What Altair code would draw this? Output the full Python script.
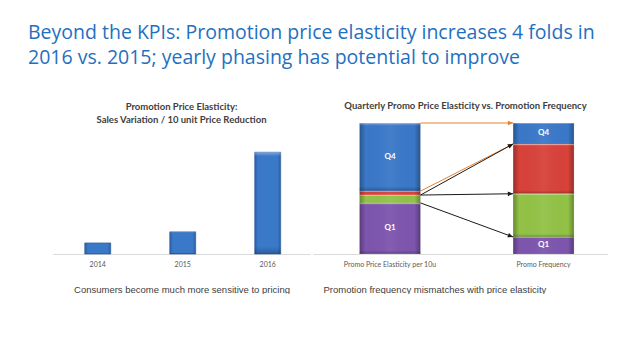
import math
import altair as alt
import pandas as pd

# ---------------- data ----------------
years = ["2014", "2015", "2016"]
elasticity = [1.1, 2.2, 10.1]

stack_cats = ["Promo Price Elasticity per 10u", "Promo Frequency"]
quarters = ["Q1", "Q2", "Q3", "Q4"]
elasticity_share = [39, 6, 3, 52]
frequency_share = [13, 33, 38, 16]

arrow_from = ["Q4", "Q3", "Q2", "Q2", "Q1"]
arrow_to = ["Q4", "Q3", "Q3", "Q2", "Q1"]
arrow_group = ["A", "A", "B", "B", "B"]

title_lines = [
    "Beyond the KPIs: Promotion price elasticity increases 4 folds in",
    "2016 vs. 2015; yearly phasing has potential to improve",
]
left_title = ["Promotion Price Elasticity:", "Sales Variation / 10 unit Price Reduction"]
right_title = "Quarterly Promo Price Elasticity vs. Promotion Frequency"
left_caption = "Consumers become much more sensitive to pricing"
right_caption = "Promotion frequency mismatches with price elasticity"

# ---------------- layout / style ----------------
LW, RW, H = 257, 295, 131
R_PI, R_PO, R_AL = 0.603, 0.262, 0.578
q_colors = ["#7d55ae", "#92c246", "#d8423a", "#3a78c8"]
group_colors = {"A": "#e8822f", "B": "#1a1a1a"}
TXT = "#404040"

shade_h = {
    "gradient": "linear", "x1": 0, "x2": 1, "y1": 0, "y2": 0,
    "stops": [
        {"offset": 0, "color": "rgba(0,0,0,0.30)"},
        {"offset": 0.1, "color": "rgba(0,0,0,0)"},
        {"offset": 0.5, "color": "rgba(255,255,255,0.05)"},
        {"offset": 0.9, "color": "rgba(0,0,0,0)"},
        {"offset": 1, "color": "rgba(0,0,0,0.30)"},
    ],
}
shade_v = {
    "gradient": "linear", "x1": 0, "x2": 0, "y1": 0, "y2": 1,
    "stops": [
        {"offset": 0, "color": "rgba(255,255,255,0.35)"},
        {"offset": 0.04, "color": "rgba(255,255,255,0)"},
        {"offset": 0.93, "color": "rgba(0,0,0,0)"},
        {"offset": 1, "color": "rgba(0,0,0,0.25)"},
    ],
}
blue_grad = {
    "gradient": "linear", "x1": 0, "x2": 1, "y1": 0, "y2": 0,
    "stops": [
        {"offset": 0, "color": "#2a5da3"},
        {"offset": 0.12, "color": "#3a78c8"},
        {"offset": 0.88, "color": "#3a78c8"},
        {"offset": 1, "color": "#2a5da3"},
    ],
}

# ---------------- left chart ----------------
left_df = pd.DataFrame({"year": years, "elasticity": elasticity})
left_axis = alt.Axis(
    title=left_caption, labelAngle=0, ticks=False, domainColor="#d9d9d9",
    labelFont="Lato", labelFontSize=7, labelColor="#595959", labelPadding=6,
    titleFont="Liberation Sans", titleFontSize=9.5, titleFontWeight="normal",
    titleColor=TXT, titleBaseline="middle", titleY=35.5,
)
lx = alt.X("year:N", scale=alt.Scale(paddingInner=0.694, paddingOuter=0.359, align=0.52), axis=left_axis)
ly = alt.Y("elasticity:Q", scale=alt.Scale(domain=[0, 13], nice=False), axis=None)
left_bars = alt.Chart(left_df).mark_bar(color=blue_grad, stroke="#2b5c9c", strokeWidth=0.6).encode(x=lx, y=ly)
left_shade = alt.Chart(left_df).mark_bar(color=shade_v).encode(x=lx, y=ly)
left = alt.layer(left_bars, left_shade).properties(
    width=LW, height=H,
    title=alt.TitleParams(
        left_title, font="Lato", fontSize=9.5, fontWeight="bold", color=TXT,
        anchor="middle", baseline="bottom", lineHeight=13.5, offset=-11.5,
    ),
)

# ---------------- right chart ----------------
rows = []
for cat, series in zip(stack_cats, [elasticity_share, frequency_share]):
    for q, v in zip(quarters, series):
        rows.append({"cat": cat, "q": q, "share": v})
right_df = pd.DataFrame(rows)

def top_of(series, q):
    i = quarters.index(q)
    return sum(series[: i + 1])

# arrow geometry (pixel slope for the arrow heads)
step = RW / (len(stack_cats) - R_PI + 2 * R_PO)
gap_px = step * R_PI
arrows = []
for f, t, g in zip(arrow_from, arrow_to, arrow_group):
    y0 = top_of(elasticity_share, f)
    y1 = top_of(frequency_share, t)
    dy = -(y1 - y0) / 100 * H
    ang = math.degrees(math.atan2(dy, gap_px)) % 360
    arrows.append({"src": stack_cats[0], "dst": stack_cats[1], "y_from": y0, "y_to": y1, "grp": g, "ang": ang})
arrow_df = pd.DataFrame(arrows)

xscale = alt.Scale(domain=stack_cats, paddingInner=R_PI, paddingOuter=R_PO, align=R_AL)
yscale = alt.Scale(domain=[0, 100], nice=False)
right_axis = alt.Axis(
    title=right_caption, labelAngle=0, ticks=False, domainColor="#d9d9d9",
    labelFont="Lato", labelFontSize=7, labelColor="#595959", labelPadding=6,
    titleFont="Liberation Sans", titleFontSize=9.5, titleFontWeight="normal",
    titleColor=TXT, titleBaseline="middle", titleY=35.5,
    titleAnchor="start", titleAlign="left", titleX=10,
)
rx = alt.X("cat:N", scale=xscale, axis=right_axis)
ry = alt.Y("y0:Q", scale=yscale, axis=None)

base = alt.Chart(right_df).transform_stack(
    stack="share", groupby=["cat"], as_=["y0", "y1"], sort=[alt.SortField("q", order="ascending")]
)
bars = base.mark_bar(strokeWidth=0.6, stroke="rgba(255,255,255,0.6)").encode(
    x=rx, y=ry, y2="y1:Q",
    color=alt.Color("q:N", scale=alt.Scale(domain=quarters, range=q_colors), legend=None),
)
shading_h = base.mark_bar(color=shade_h).encode(x=rx, y=ry, y2="y1:Q")
shading_v = base.mark_bar(color=shade_v).encode(x=rx, y=ry, y2="y1:Q")
labels = base.transform_filter(
    alt.FieldOneOfPredicate(field="q", oneOf=["Q1", "Q4"])
).transform_calculate(mid="(datum.y0 + datum.y1) / 2").mark_text(
    color="white", font="Lato", fontWeight="bold", fontSize=8
).encode(
    x=rx,
    y=alt.Y("mid:Q", scale=yscale, axis=None),
    text="q:N",
)

arrow_layers = []
for g, col in group_colors.items():
    src = alt.Chart(arrow_df).transform_filter(alt.datum.grp == g)
    arrow_layers.append(
        src.mark_rule(strokeWidth=1, color=col).encode(
            x=alt.X("src:N", scale=xscale, axis=right_axis, bandPosition=1),
            x2=alt.X2("dst:N", bandPosition=0),
            y=alt.Y("y_from:Q", scale=yscale, axis=None),
            y2="y_to:Q",
        )
    )
    arrow_layers.append(
        src.mark_point(
            shape="M0,0L-1,-0.45L-1,0.45Z", filled=True, size=110, opacity=1, color=col
        ).encode(
            x=alt.X("dst:N", scale=xscale, axis=right_axis, bandPosition=0),
            y=alt.Y("y_to:Q", scale=yscale, axis=None),
            angle=alt.Angle("ang:Q", scale=None),
        )
    )

right = alt.layer(bars, shading_h, shading_v, labels, *arrow_layers).properties(
    width=RW, height=H,
    title=alt.TitleParams(
        right_title, font="Lato", fontSize=9.5, fontWeight="bold", color=TXT,
        anchor="middle", baseline="bottom", offset=0.5, dx=5,
    ),
)

chart = alt.hconcat(left, right, spacing=3).properties(
    title=alt.TitleParams(
        title_lines, anchor="start", font="Open Sans", fontSize=19.5, fontWeight="normal",
        color="#1f70c1", lineHeight=25, dx=-25, offset=32.5,
    ),
    padding={"left": 28, "top": 22, "right": 0, "bottom": 0},
    background="white",
).configure_view(stroke=None)

chart.save("out.html", embed_options={"renderer": "svg", "actions": False})
